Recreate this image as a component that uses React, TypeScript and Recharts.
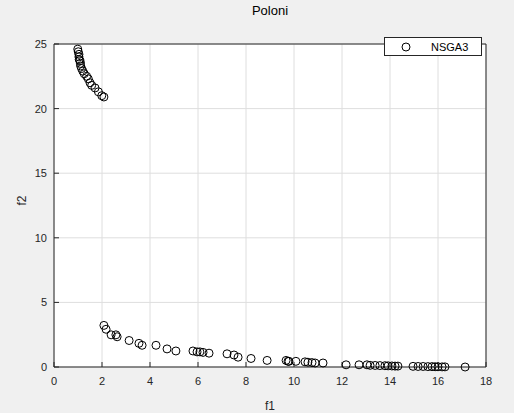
import React from 'react';
import { ScatterChart, Scatter, XAxis, YAxis, CartesianGrid, Legend, ReferenceLine } from 'recharts';

// NSGA3 pareto front on the Poloni problem
const f1Values = [
  0.99, 1.01, 1.04, 1.04, 1.05, 1.08, 1.1, 1.11, 1.15, 1.2, 1.26, 1.36, 1.43, 1.5, 1.57, 1.71, 1.85, 1.99, 2.08,
  2.08, 2.17, 2.38, 2.58, 2.63, 3.13, 3.54, 3.67, 4.25, 4.71, 5.08, 5.79, 5.96, 6.08, 6.21, 6.46, 7.21, 7.5, 7.67,
  8.21, 8.88, 9.67, 9.75, 9.79, 10.08, 10.46, 10.58, 10.75, 10.88, 11.21, 12.17, 12.71, 13.04, 13.17, 13.38, 13.58,
  13.79, 13.92, 14.08, 14.21, 14.33, 14.96, 15.17, 15.38, 15.58, 15.75, 15.88, 16.0, 16.17, 16.29, 17.13,
];
const f2Values = [
  24.6, 24.4, 24.2, 24.0, 23.8, 23.7, 23.5, 23.3, 23.1, 22.9, 22.7, 22.5, 22.3, 22.0, 21.8, 21.6, 21.3, 21.0, 20.9,
  3.22, 2.92, 2.49, 2.49, 2.34, 2.05, 1.83, 1.68, 1.68, 1.4, 1.24, 1.24, 1.17, 1.17, 1.13, 1.07, 1.02, 0.93, 0.76,
  0.66, 0.51, 0.51, 0.44, 0.44, 0.44, 0.4, 0.37, 0.34, 0.31, 0.31, 0.17, 0.17, 0.17, 0.13, 0.12, 0.11,
  0.1, 0.09, 0.08, 0.07, 0.07, 0.05, 0.04, 0.04, 0.03, 0.03, 0.02, 0.02, 0.01, 0.01, 0.0,
];
const xTicks = [0, 2, 4, 6, 8, 10, 12, 14, 16, 18];
const yTicks = [0, 5, 10, 15, 20, 25];

const points = f1Values.map((f1, i) => ({ f1, f2: f2Values[i] }));

const FONT = '"Liberation Sans", Arial, sans-serif';
const AXIS = '#262626';
const tickStyle = { fill: AXIS, fontSize: 11, fontFamily: FONT };

const RingMarker = (props: any) => (
  <circle cx={props.cx} cy={props.cy} r={4} fill="none" stroke="#000" strokeWidth={1} />
);

const LegendBox = () => (
  <div
    style={{
      width: 98,
      height: 19,
      border: `1px solid ${AXIS}`,
      background: '#fff',
      display: 'flex',
      alignItems: 'center',
      fontFamily: FONT,
      fontSize: 11,
      color: '#000',
      boxSizing: 'border-box',
    }}
  >
    <svg width={46} height={16}>
      <circle cx={21} cy={8} r={4} fill="none" stroke="#000" strokeWidth={1} />
    </svg>
    <span>NSGA3</span>
  </div>
);

const App: React.FC = () => {
  return (
    <div
      style={{
        position: 'absolute',
        left: 0,
        top: 0,
        width: 514,
        height: 413,
        background: '#f0f0f0',
        fontFamily: FONT,
      }}
    >
      <div
        style={{
          position: 'absolute',
          left: 54,
          width: 432,
          top: 3,
          textAlign: 'center',
          fontSize: 13,
          color: '#000',
        }}
      >
        Poloni
      </div>
      <ScatterChart width={514} height={413} margin={{ top: 25, right: 28, left: 0, bottom: 0 }}>
        <CartesianGrid stroke="#dedede" strokeWidth={1} fill="#fff" />
        <XAxis
          type="number"
          dataKey="f1"
          domain={[0, 18]}
          ticks={xTicks}
          height={46}
          stroke={AXIS}
          tickSize={-5}
          tickMargin={15}
          tick={tickStyle}
          label={{ value: 'f1', position: 'insideBottom', offset: 3, fill: AXIS, fontSize: 12, fontFamily: FONT }}
        />
        <YAxis
          type="number"
          dataKey="f2"
          domain={[0, 25]}
          ticks={yTicks}
          width={54}
          stroke={AXIS}
          tickSize={-5}
          tickMargin={12}
          tick={tickStyle}
          label={{ value: 'f2', angle: -90, position: 'insideLeft', offset: 22, fill: AXIS, fontSize: 12, fontFamily: FONT }}
        />
        {/* box edges on top and right, like a MATLAB axes */}
        <ReferenceLine y={25} stroke={AXIS} strokeWidth={1} />
        <ReferenceLine x={18} stroke={AXIS} strokeWidth={1} />
        <Legend
          verticalAlign="top"
          align="right"
          content={() => <LegendBox />}
          wrapperStyle={{ position: 'absolute', left: 384, top: 37, width: 98 }}
        />
        <Scatter name="NSGA3" data={points} shape={RingMarker} isAnimationActive={false} />
      </ScatterChart>
    </div>
  );
};

export default App;
